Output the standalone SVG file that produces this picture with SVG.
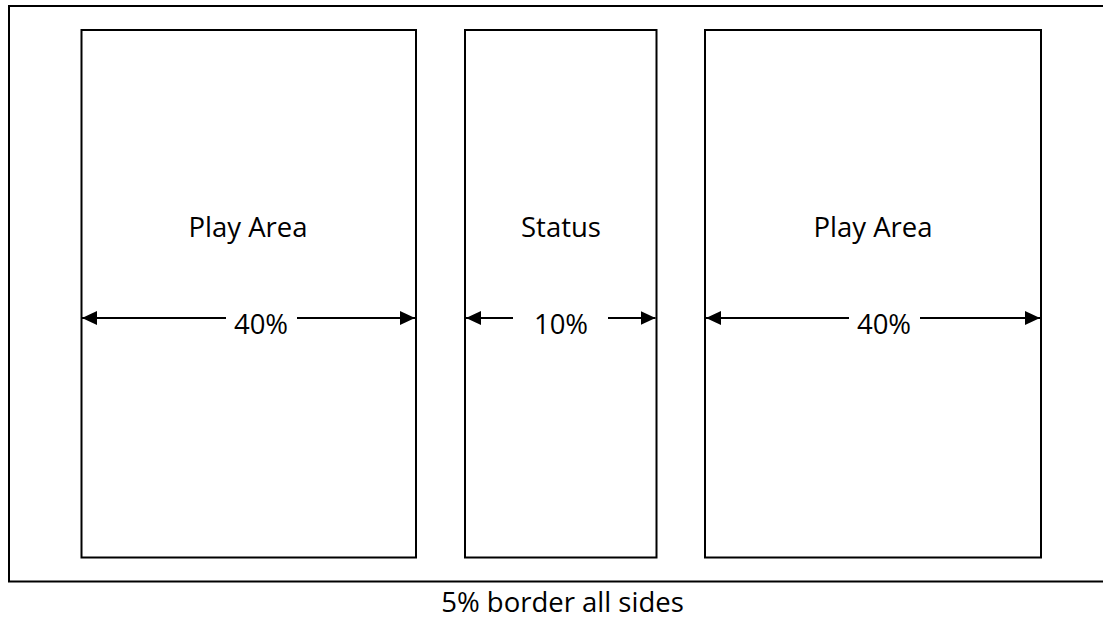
<svg xmlns="http://www.w3.org/2000/svg" width="1103" height="625" viewBox="0 0 1103 625">
<style>
.box{fill:#fff;stroke:#000;stroke-width:2}
.dim{stroke:#000;stroke-width:2;fill:none}
.lbl{font-family:"Open Sans","Noto Sans",sans-serif;font-size:27.5px;fill:#000;text-anchor:middle}
</style>
<defs>
<marker id="ah" markerUnits="userSpaceOnUse" markerWidth="16" markerHeight="14" refX="15" refY="7" orient="auto">
<path d="M0,0 L15,7 L0,14 Z" fill="#000"/>
</marker>
</defs>
<rect width="1103" height="625" fill="#fff"/>
<g id="outer"><rect class="box" x="9" y="6" width="1110" height="575.5"/></g>
<g id="left-play"><rect class="box" x="81.5" y="30" width="334.5" height="527.5"/><text class="lbl" x="248" y="237">Play Area</text></g>
<g id="status"><rect class="box" x="465" y="30" width="191.5" height="527.5"/><text class="lbl" x="561" y="237">Status</text></g>
<g id="right-play"><rect class="box" x="705" y="30" width="336" height="527.5"/><text class="lbl" x="873" y="237">Play Area</text></g>
<g id="connectors">
<line class="dim" x1="226" y1="318" x2="82" y2="318" marker-end="url(#ah)"/>
<line class="dim" x1="297" y1="318" x2="415" y2="318" marker-end="url(#ah)"/>
<line class="dim" x1="513" y1="318" x2="466" y2="318" marker-end="url(#ah)"/>
<line class="dim" x1="608" y1="318" x2="655.5" y2="318" marker-end="url(#ah)"/>
<line class="dim" x1="849" y1="318" x2="706" y2="318" marker-end="url(#ah)"/>
<line class="dim" x1="920" y1="318" x2="1040" y2="318" marker-end="url(#ah)"/>
</g>
<g id="dim-labels">
<text class="lbl" x="261" y="334">40%</text>
<text class="lbl" x="561" y="334">10%</text>
<text class="lbl" x="884" y="334">40%</text>
<text class="lbl" x="562.5" y="612">5% border all sides</text>
</g>
</svg>
